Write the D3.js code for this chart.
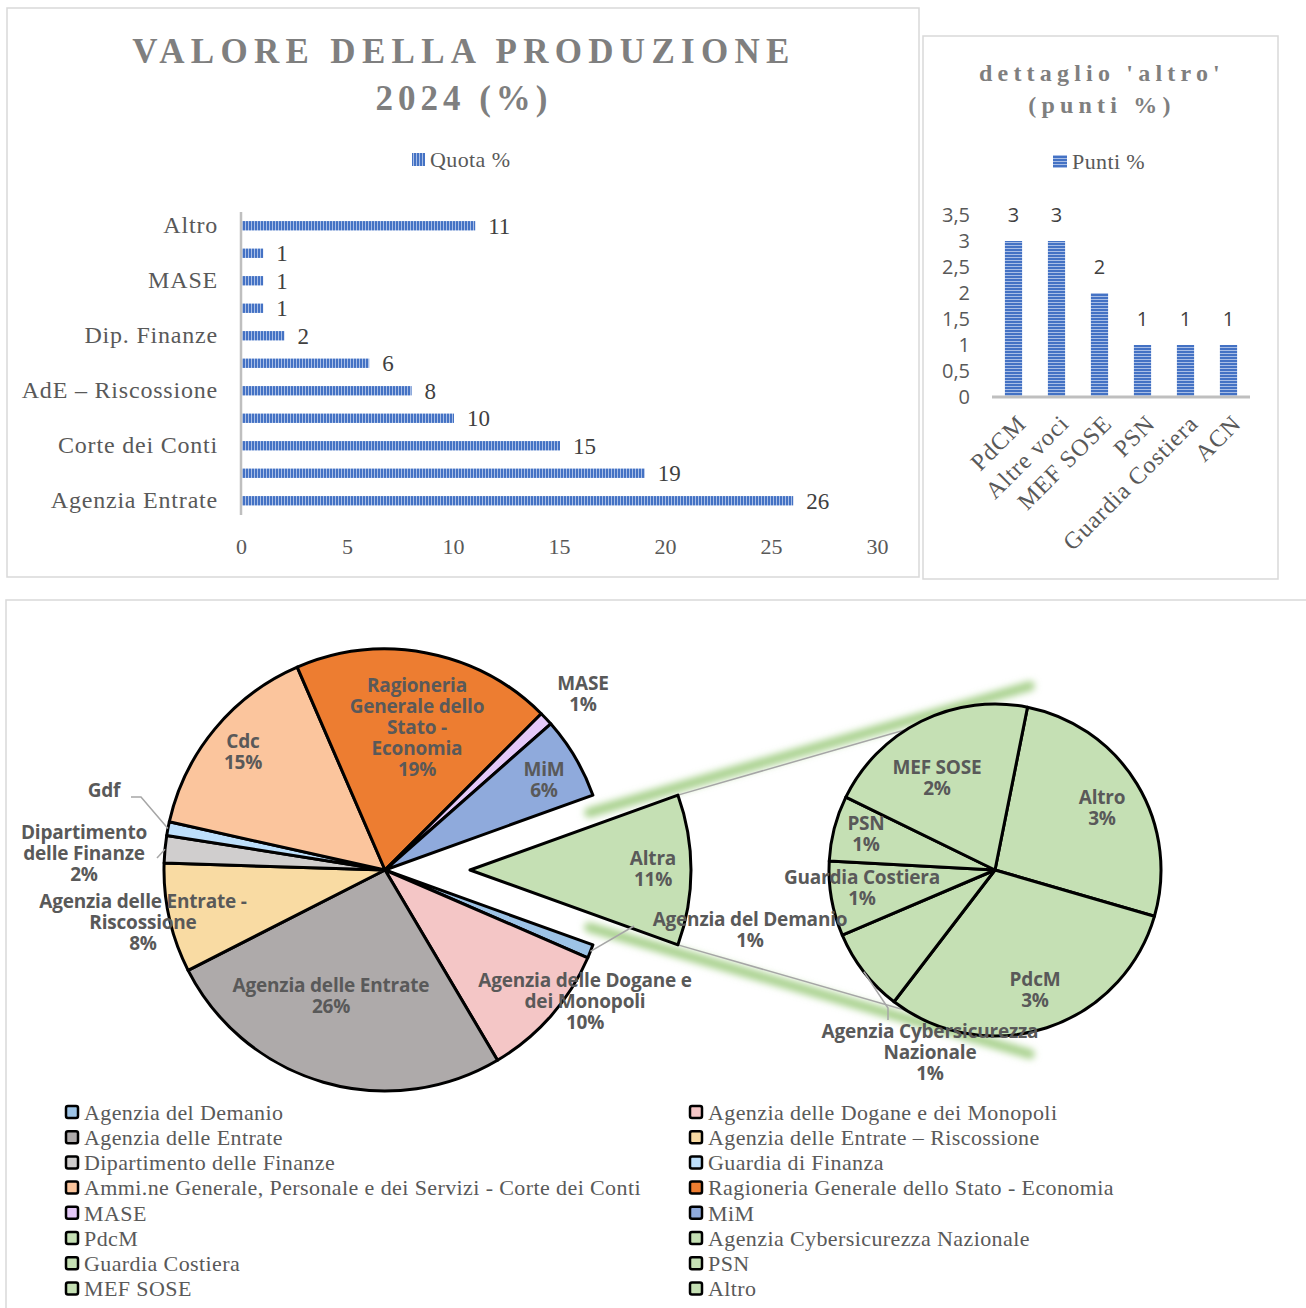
<!DOCTYPE html>
<html>
<head>
<meta charset="utf-8">
<script src="https://cdn.jsdelivr.net/npm/d3@7"></script>
<style>
  body { margin: 0; background: #fff; }
  svg { display: block; }
</style>
</head>
<body>
<svg id="chart" width="1306" height="1308"></svg>
<script>
// ---- data ----
const barCategories = ["Agenzia Entrate", "RGS - Economia", "Corte dei Conti", "Dogane e Monopoli",
  "AdE – Riscossione", "MiM", "Dip. Finanze", "GdF", "MASE", "Demanio", "Altro"];
const barValues = [26, 19, 15, 10, 8, 6, 2, 1, 1, 1, 11];
const barTicks = [0, 5, 10, 15, 20, 25, 30];

const detailCategories = ["PdCM", "Altre voci", "MEF SOSE", "PSN", "Guardia Costiera", "ACN"];
const detailValues = [3, 3, 2, 1, 1, 1];
const detailTicks = [0, 0.5, 1, 1.5, 2, 2.5, 3, 3.5];

const mainNames = ["Altra", "Agenzia del Demanio", "Agenzia delle Dogane e dei Monopoli",
  "Agenzia delle Entrate", "Agenzia delle Entrate – Riscossione", "Dipartimento delle Finanze",
  "Guardia di Finanza", "Ammi.ne Generale, Personale e dei Servizi - Corte dei Conti",
  "Ragioneria Generale dello Stato - Economia", "MASE", "MiM"];
const mainValues = [11, 1, 10, 26, 8, 2, 1, 15, 19, 1, 6];
const mainLabels = ["Altra", "Agenzia del Demanio", "Agenzia delle Dogane e|dei Monopoli",
  "Agenzia delle Entrate", "Agenzia delle Entrate -|Riscossione", "Dipartimento|delle Finanze",
  "Gdf", "Cdc", "Ragioneria|Generale dello|Stato -|Economia", "MASE", "MiM"];
const mainShowPct = [true, true, true, true, true, true, false, true, true, true, true];

const secNames = ["Altro", "PdcM", "Agenzia Cybersicurezza Nazionale", "Guardia Costiera", "PSN", "MEF SOSE"];
const secValues = [2.9, 3.4, 0.9, 0.8, 0.7, 2.3];
const secLabels = ["Altro", "PdcM", "Agenzia Cybersicurezza|Nazionale", "Guardia Costiera", "PSN", "MEF SOSE"];

const legendNames = ["Agenzia del Demanio", "Agenzia delle Dogane e dei Monopoli",
  "Agenzia delle Entrate", "Agenzia delle Entrate – Riscossione",
  "Dipartimento delle Finanze", "Guardia di Finanza",
  "Ammi.ne Generale, Personale e dei Servizi - Corte dei Conti", "Ragioneria Generale dello Stato - Economia",
  "MASE", "MiM", "PdcM", "Agenzia Cybersicurezza Nazionale",
  "Guardia Costiera", "PSN", "MEF SOSE", "Altro"];
const legendColors = ["#9DC3E6", "#F4C6C6", "#AEAAAA", "#F9DBA3", "#D0CECE", "#BDDFFB",
  "#FBC59D", "#ED7D31", "#E4C8F8", "#8FAADC", "#C5E0B4", "#C5E0B4",
  "#C5E0B4", "#C5E0B4", "#C5E0B4", "#C5E0B4"];

// ---- setup ----
const SERIF = "'Liberation Serif', 'Times New Roman', serif";
const SANS = "'Open Sans', sans-serif";
const LABEL = "'Open Sans', Lato, sans-serif";
const colorOf = d3.scaleOrdinal().domain(legendNames.concat(["Altra"])).range(legendColors.concat(["#C5E0B4"]));

const svg = d3.select("#chart");
const defs = svg.append("defs");

function stripes(id, vertical) {
  const p = defs.append("pattern").attr("id", id)
    .attr("patternUnits", "userSpaceOnUse").attr("width", 3).attr("height", 3);
  p.append("rect").attr("width", 3).attr("height", 3).attr("fill", "#4472C4");
  if (vertical) p.append("rect").attr("x", 2).attr("width", 1).attr("height", 3).attr("fill", "#A9BEE6");
  else p.append("rect").attr("y", 2).attr("width", 3).attr("height", 1).attr("fill", "#A9BEE6");
}
stripes("stripeV", true);
stripes("stripeH", false);

const glow = defs.append("filter").attr("id", "glow").attr("filterUnits", "userSpaceOnUse")
  .attr("x", 0).attr("y", 0).attr("width", 1306).attr("height", 1308);
glow.append("feGaussianBlur").attr("stdDeviation", 3.5);

// panel frames
svg.append("rect").attr("x", 7).attr("y", 8).attr("width", 912).attr("height", 569)
  .attr("fill", "none").attr("stroke", "#D9D9D9").attr("stroke-width", 1.5);
svg.append("rect").attr("x", 923).attr("y", 36).attr("width", 355).attr("height", 543)
  .attr("fill", "none").attr("stroke", "#D9D9D9").attr("stroke-width", 1.5);
svg.append("rect").attr("x", 6).attr("y", 600).attr("width", 1320).attr("height", 720)
  .attr("fill", "none").attr("stroke", "#D9D9D9").attr("stroke-width", 1.5);

// ---- chart 1: horizontal bars ----
const g1 = svg.append("g");
g1.append("text").attr("x", 464).attr("y", 63).attr("text-anchor", "middle")
  .attr("font-family", SERIF).attr("font-weight", "bold").attr("font-size", 35)
  .attr("letter-spacing", 6.3).attr("fill", "#7F7F7F").text("VALORE DELLA PRODUZIONE");
g1.append("text").attr("x", 464).attr("y", 110).attr("text-anchor", "middle")
  .attr("font-family", SERIF).attr("font-weight", "bold").attr("font-size", 35)
  .attr("letter-spacing", 5).attr("fill", "#7F7F7F").text("2024 (%)");
g1.append("rect").attr("x", 412).attr("y", 153).attr("width", 13).attr("height", 13).attr("fill", "url(#stripeV)");
g1.append("text").attr("x", 430).attr("y", 167).attr("font-family", SERIF).attr("font-size", 22)
  .attr("letter-spacing", 0.4).attr("fill", "#595959").text("Quota %");

const rows1 = barCategories.map((c, i) => ({ name: c, value: barValues[i] }));
const x1 = d3.scaleLinear().domain([0, 30]).range([241, 877]);
const y1 = d3.scaleBand().domain(barCategories).range([514.5, 212]).paddingInner(0.66).paddingOuter(0.33);

g1.selectAll(".bar1").data(rows1).join("rect")
  .attr("class", "bar1")
  .attr("x", x1(0) + 1)
  .attr("y", d => y1(d.name))
  .attr("width", d => x1(d.value) - x1(0))
  .attr("height", y1.bandwidth())
  .attr("fill", "url(#stripeV)");

g1.selectAll(".val1").data(rows1).join("text")
  .attr("class", "val1")
  .attr("x", d => x1(d.value) + 14)
  .attr("y", d => y1(d.name) + y1.bandwidth() / 2)
  .attr("dy", "0.35em")
  .attr("font-family", SERIF).attr("font-size", 23).attr("fill", "#404040")
  .text(d => d.value);

g1.append("g").attr("transform", `translate(${x1(0)},0)`)
  .call(d3.axisLeft(y1).tickSize(0).tickPadding(23).tickFormat((d, i) => i % 2 === 0 ? d : ""))
  .call(g => g.select(".domain").remove())
  .selectAll("text").attr("font-family", SERIF).attr("font-size", 24)
  .attr("letter-spacing", 0.8).attr("fill", "#595959");

g1.append("line").attr("x1", x1(0)).attr("x2", x1(0)).attr("y1", 212).attr("y2", 515)
  .attr("stroke", "#BFBFBF").attr("stroke-width", 2.5);

g1.append("g").attr("transform", "translate(0,530)")
  .call(d3.axisBottom(x1).tickValues(barTicks).tickSize(0).tickPadding(8))
  .call(g => g.select(".domain").remove())
  .selectAll("text").attr("font-family", SERIF).attr("font-size", 22).attr("fill", "#595959");

// ---- chart 2: detail columns ----
const g2 = svg.append("g");
g2.append("text").attr("x", 1102).attr("y", 81).attr("text-anchor", "middle")
  .attr("font-family", SERIF).attr("font-weight", "bold").attr("font-size", 24)
  .attr("letter-spacing", 5.2).attr("fill", "#7F7F7F").text("dettaglio 'altro'");
g2.append("text").attr("x", 1102).attr("y", 113).attr("text-anchor", "middle")
  .attr("font-family", SERIF).attr("font-weight", "bold").attr("font-size", 24)
  .attr("letter-spacing", 5.2).attr("fill", "#7F7F7F").text("(punti %)");
g2.append("rect").attr("x", 1053).attr("y", 155).attr("width", 14).attr("height", 13).attr("fill", "url(#stripeH)");
g2.append("text").attr("x", 1072).attr("y", 169).attr("font-family", SERIF).attr("font-size", 22)
  .attr("letter-spacing", 0.4).attr("fill", "#595959").text("Punti %");

const rows2 = detailCategories.map((c, i) => ({ name: c, value: detailValues[i] }));
const x2 = d3.scaleBand().domain(detailCategories).range([992, 1250]).paddingInner(0.6).paddingOuter(0.3);
const y2 = d3.scaleLinear().domain([0, 3.5]).range([397, 215]);

g2.selectAll(".bar2").data(rows2).join("rect")
  .attr("class", "bar2")
  .attr("x", d => x2(d.name))
  .attr("y", d => y2(d.value))
  .attr("width", x2.bandwidth())
  .attr("height", d => y2(0) - y2(d.value))
  .attr("fill", "url(#stripeH)");

g2.selectAll(".val2").data(rows2).join("text")
  .attr("class", "val2")
  .attr("x", d => x2(d.name) + x2.bandwidth() / 2)
  .attr("y", d => y2(d.value) - 19)
  .attr("text-anchor", "middle")
  .attr("font-family", SANS).attr("font-size", 20).attr("fill", "#404040")
  .text(d => d.value);

g2.append("g").attr("transform", "translate(992,0)")
  .call(d3.axisLeft(y2).tickValues(detailTicks).tickSize(0).tickPadding(22)
    .tickFormat(d => String(d).replace(".", ",")))
  .call(g => g.select(".domain").remove())
  .selectAll("text").attr("font-family", SANS).attr("font-size", 20).attr("fill", "#595959");

g2.append("line").attr("x1", 992).attr("x2", 1250).attr("y1", y2(0)).attr("y2", y2(0))
  .attr("stroke", "#BFBFBF").attr("stroke-width", 3);

g2.append("g").attr("transform", `translate(0,${y2(0)})`)
  .call(d3.axisBottom(x2).tickSize(0))
  .call(g => g.select(".domain").remove())
  .selectAll("text")
  .attr("font-family", SERIF).attr("font-size", 24).attr("letter-spacing", 1).attr("fill", "#595959")
  .attr("text-anchor", "end").attr("x", 0).attr("y", 0).attr("dy", "0.35em")
  .attr("transform", "translate(8,22) rotate(-45)");

// ---- pie of pie ----
const cx = 385, cy = 870, R = 221, explode = 85;
const cx2 = 995, cy2 = 870, R2 = 166;
const total = d3.sum(mainValues);
const pct = v => Math.round(v / total * 100) + "%";

const mainStart = Math.PI / 2 - (mainValues[0] / total) * Math.PI;
const pie1 = d3.pie().sort(null).value(d => d.value)
  .startAngle(mainStart).endAngle(mainStart + 2 * Math.PI);
const arcs1 = pie1(mainNames.map((n, i) => ({ name: n, value: mainValues[i], label: mainLabels[i], showPct: mainShowPct[i] })));

const secStart = 0.197;
const pie2 = d3.pie().sort(null).value(d => d.value)
  .startAngle(secStart).endAngle(secStart + 2 * Math.PI);
const arcs2 = pie2(secNames.map((n, i) => ({ name: n, value: secValues[i], label: secLabels[i], showPct: true })));

const arc1 = d3.arc().innerRadius(0).outerRadius(R);
const arc2 = d3.arc().innerRadius(0).outerRadius(R2);
const polar = (x, y, r, a) => [x + r * Math.sin(a), y - r * Math.cos(a)];

// exploded "Altra" slice centre
const other = arcs1[0];
const otherMid = (other.startAngle + other.endAngle) / 2;
const [ox, oy] = polar(cx, cy, explode, otherMid);
const cornerTop = polar(ox, oy, R, other.startAngle);
const cornerBot = polar(ox, oy, R, other.endAngle);
const secTop = [cx2, cy2 - R2], secBot = [cx2, cy2 + R2];

// connector glow + lines
const g3 = svg.append("g");
[[cornerTop, secTop, -8], [cornerBot, secBot, 8]].forEach(([a, b, off]) => {
  const p = t => [a[0] + t * (b[0] - a[0]), a[1] + t * (b[1] - a[1]) + off];
  g3.append("line")
    .attr("x1", p(-0.28)[0]).attr("y1", p(-0.28)[1]).attr("x2", p(1.11)[0]).attr("y2", p(1.11)[1])
    .attr("stroke", "#A9D18E").attr("stroke-width", 10).attr("stroke-linecap", "round")
    .attr("opacity", 1).attr("filter", "url(#glow)");
  g3.append("line").attr("x1", a[0]).attr("y1", a[1]).attr("x2", b[0]).attr("y2", b[1])
    .attr("stroke", "#A6A6A6").attr("stroke-width", 1.5);
});

g3.selectAll(".slice1").data(arcs1).join("path")
  .attr("class", "slice1")
  .attr("transform", (d, i) => i === 0 ? `translate(${ox},${oy})` : `translate(${cx},${cy})`)
  .attr("d", arc1)
  .attr("fill", d => colorOf(d.data.name))
  .attr("stroke", "#000").attr("stroke-width", 3).attr("stroke-linejoin", "round");

g3.selectAll(".slice2").data(arcs2).join("path")
  .attr("class", "slice2")
  .attr("transform", `translate(${cx2},${cy2})`)
  .attr("d", arc2)
  .attr("fill", d => colorOf(d.data.name))
  .attr("stroke", "#000").attr("stroke-width", 3).attr("stroke-linejoin", "round");

// label layout: offsets of the label block centre from its pie centre
const mainLabelPos = [[183, -1], [365, 60], [200, 131], [-54, 126], [-242, 52], [-301, -17],
  [-281, -80], [-142, -118], [32, -143], [198, -176], [159, -90]];
const secLabelPos = [[107, -62], [40, 120], [-65, 182], [-133, 18], [-129, -36], [-58, -92]];

// leader lines: slice index -> bend points (offsets from pie centre)
const mainLeaders = { 1: [[249, 56]], 5: [[-228, -12]], 6: [[-244, -73], [-254, -73]] };
const secLeaders = { 2: [[-107, 138], [-107, 150]] };

function drawLeaders(arcs, leaders, x0, y0, r) {
  Object.entries(leaders).forEach(([i, pts]) => {
    const d = arcs[+i];
    const start = polar(x0, y0, r, (d.startAngle + d.endAngle) / 2);
    const line = [start].concat(pts.map(p => [x0 + p[0], y0 + p[1]]));
    g3.append("path").attr("d", d3.line()(line))
      .attr("fill", "none").attr("stroke", "#A6A6A6").attr("stroke-width", 1.5);
  });
}
drawLeaders(arcs1, mainLeaders, cx, cy, R);
drawLeaders(arcs2, secLeaders, cx2, cy2, R2);

function drawLabels(arcs, pos, x0, y0, exploded) {
  arcs.forEach((d, i) => {
    const lines = d.data.label.split("|");
    if (d.data.showPct) lines.push(pct(d.data.value));
    const bx = (exploded && i === 0 ? ox : x0) + pos[i][0];
    const by = (exploded && i === 0 ? oy : y0) + pos[i][1];
    const lh = 21;
    const t = g3.append("text").attr("text-anchor", "middle")
      .attr("font-family", LABEL).attr("font-weight", "bold").attr("font-size", 19)
      .attr("letter-spacing", -0.2).attr("fill", "#595959");
    lines.forEach((l, k) => {
      t.append("tspan").attr("x", bx).attr("y", by - (lines.length - 1) * lh / 2 + k * lh)
        .attr("dy", "0.35em").text(l);
    });
  });
}
drawLabels(arcs1, mainLabelPos, cx, cy, true);
drawLabels(arcs2, secLabelPos, cx2, cy2, false);

// ---- legend ----
const lg = svg.append("g");
const legendItems = lg.selectAll(".item").data(legendNames).join("g")
  .attr("class", "item")
  .attr("transform", (d, i) => `translate(${i % 2 === 0 ? 66 : 690},${1112 + Math.floor(i / 2) * 25.2})`);
legendItems.append("rect").attr("x", 0).attr("y", -6).attr("width", 12).attr("height", 12).attr("rx", 2)
  .attr("fill", (d, i) => legendColors[i]).attr("stroke", "#000").attr("stroke-width", 2.5);
legendItems.append("text").attr("x", 18).attr("dy", "0.35em")
  .attr("font-family", SERIF).attr("font-size", 22).attr("letter-spacing", 0.4).attr("fill", "#595959")
  .text(d => d);
</script>
</body>
</html>
